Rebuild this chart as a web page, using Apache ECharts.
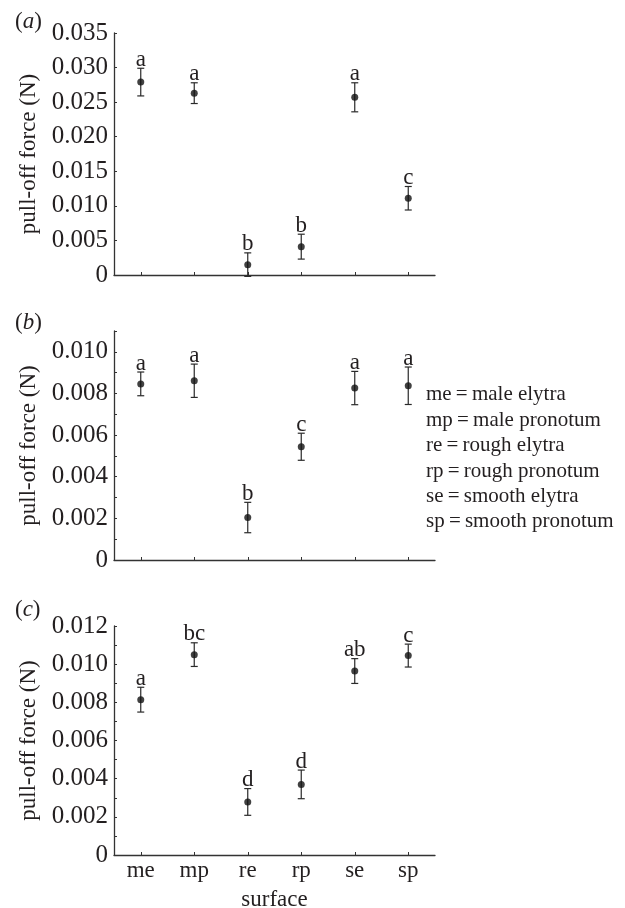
<!DOCTYPE html>
<html>
<head>
<meta charset="utf-8">
<script src="https://cdn.jsdelivr.net/npm/echarts@6/dist/echarts.min.js"></script>
<style>
html,body{margin:0;padding:0;background:#fff;}
#chart{width:625px;height:908px;}
</style>
</head>
<body>
<div id="chart"></div>
<script>
var categories = ['me', 'mp', 're', 'rp', 'se', 'sp'];

var meansA = [0.0279, 0.0263, 0.0015, 0.0041, 0.0257, 0.0111];
var errA = [0.0020, 0.0015, 0.0017, 0.0018, 0.0021, 0.0017];
var lettersA = ['a', 'a', 'b', 'b', 'a', 'c'];

var meansB = [0.00846, 0.00861, 0.00204, 0.00544, 0.00826, 0.00837];
var errB = [0.00057, 0.00080, 0.00073, 0.00065, 0.00080, 0.00090];
var lettersB = ['a', 'a', 'b', 'c', 'a', 'a'];

var meansC = [0.00814, 0.01050, 0.00278, 0.00370, 0.00964, 0.01045];
var errC = [0.00065, 0.00062, 0.00070, 0.00075, 0.00065, 0.00060];
var lettersC = ['a', 'bc', 'd', 'd', 'ab', 'c'];

var legendLines = ['me\u2009=\u2009male elytra', 'mp\u2009=\u2009male pronotum', 're\u2009=\u2009rough elytra',
  'rp\u2009=\u2009rough pronotum', 'se\u2009=\u2009smooth elytra', 'sp\u2009=\u2009smooth pronotum'];

var yAxisTitle = 'pull-off force (N)';
var xAxisTitle = 'surface';
var panelLabels = ['a', 'b', 'c'];

var FONT = '"Liberation Serif", "Times New Roman", serif';
var TXT = '#231f20';
var AX = '#333';

var panels = [
  {means: meansA, err: errA, letters: lettersA, max: 0.035, interval: 0.005, top: 33, height: 242, step: 5},
  {means: meansB, err: errB, letters: lettersB, max: 0.011, interval: 0.001, top: 331, height: 229, step: 2},
  {means: meansC, err: errC, letters: lettersC, max: 0.012, interval: 0.001, top: 626, height: 229, step: 2}
];

var grids = [], xAxes = [], yAxes = [], series = [], graphics = [];

panels.forEach(function (p, gi) {
  grids.push({left: 114, width: 321, top: p.top, height: p.height, containLabel: false, outerBoundsMode: 'none'});
  xAxes.push({
    type: 'category', gridIndex: gi, data: categories, boundaryGap: true,
    axisLine: {lineStyle: {color: AX, width: 1.3}},
    axisTick: {show: true, inside: true, length: 3, alignWithLabel: true, lineStyle: {color: AX, width: 1}},
    axisLabel: {show: gi === 2, fontFamily: FONT, fontSize: 23, color: TXT, margin: 4},
    name: gi === 2 ? xAxisTitle : '', nameLocation: 'middle', nameGap: 33,
    nameTextStyle: {fontFamily: FONT, fontSize: 23, color: TXT},
    splitLine: {show: false}
  });
  yAxes.push({
    type: 'value', gridIndex: gi, min: 0, max: p.max, interval: p.interval,
    axisLine: {show: true, lineStyle: {color: AX, width: 1.3}},
    axisTick: {show: true, inside: true, length: 3, lineStyle: {color: AX, width: 1}},
    axisLabel: {
      fontFamily: FONT, fontSize: 25, color: TXT, margin: 6,
      formatter: (function (step) {
        return function (v) {
          var k = Math.round(v * 1000);
          if (k % step !== 0) return '';
          return k === 0 ? '0' : (k / 1000).toFixed(3);
        };
      })(p.step)
    },
    splitLine: {show: false},
    name: yAxisTitle, nameLocation: 'middle', nameGap: 70, nameRotate: 90,
    nameTextStyle: {fontFamily: FONT, fontSize: 23, color: TXT}
  });
  var pts = p.means.map(function (m, i) { return [i, m]; });
  series.push({
    type: 'scatter', xAxisIndex: gi, yAxisIndex: gi, data: pts,
    symbol: 'circle', symbolSize: 7, itemStyle: {color: '#111'}, z: 3, silent: true
  });
  var ebData = p.means.map(function (m, i) { return [i, m, p.err[i]]; });
  series.push({
    type: 'custom', xAxisIndex: gi, yAxisIndex: gi, data: ebData, z: 2, silent: true,
    renderItem: (function (letters) {
      return function (params, api) {
        var i = api.value(0), m = api.value(1), e = api.value(2);
        var hi = api.coord([i, m + e]);
        var lo = api.coord([i, m - e]);
        var cap = 3.5;
        var ls = {stroke: '#2a2a2a', lineWidth: 1.2};
        return {
          type: 'group',
          children: [
            {type: 'line', shape: {x1: hi[0], y1: hi[1], x2: lo[0], y2: lo[1]}, style: ls},
            {type: 'line', shape: {x1: hi[0] - cap, y1: hi[1], x2: hi[0] + cap, y2: hi[1]}, style: ls},
            {type: 'line', shape: {x1: lo[0] - cap, y1: lo[1], x2: lo[0] + cap, y2: lo[1]}, style: ls},
            {type: 'text', style: {
              text: letters[params.dataIndex], x: hi[0], y: hi[1] + 3,
              textAlign: 'center', textVerticalAlign: 'bottom',
              font: '23px ' + FONT, fill: TXT
            }}
          ]
        };
      };
    })(p.letters)
  });
});

var labelY = [22, 323, 610];
panelLabels.forEach(function (l, i) {
  graphics.push({
    type: 'text', left: 15, top: labelY[i] - 12,
    style: {
      text: '(' + '{i|' + l + '}' + ')',
      font: '23px ' + FONT, fill: TXT,
      rich: {i: {fontStyle: 'italic', fontFamily: FONT, fontSize: 23, fill: TXT}}
    }
  });
});

var legY = [394, 419.5, 445, 470.5, 496, 521];
legendLines.forEach(function (t, i) {
  graphics.push({
    type: 'text', left: 426, top: legY[i] - 10,
    style: {text: t, font: '21px ' + FONT, fill: TXT}
  });
});

var chart = echarts.init(document.getElementById('chart'), null, {renderer: 'canvas'});
chart.setOption({
  backgroundColor: '#fff',
  animation: false,
  grid: grids,
  xAxis: xAxes,
  yAxis: yAxes,
  series: series,
  graphic: graphics
});
</script>
</body>
</html>
